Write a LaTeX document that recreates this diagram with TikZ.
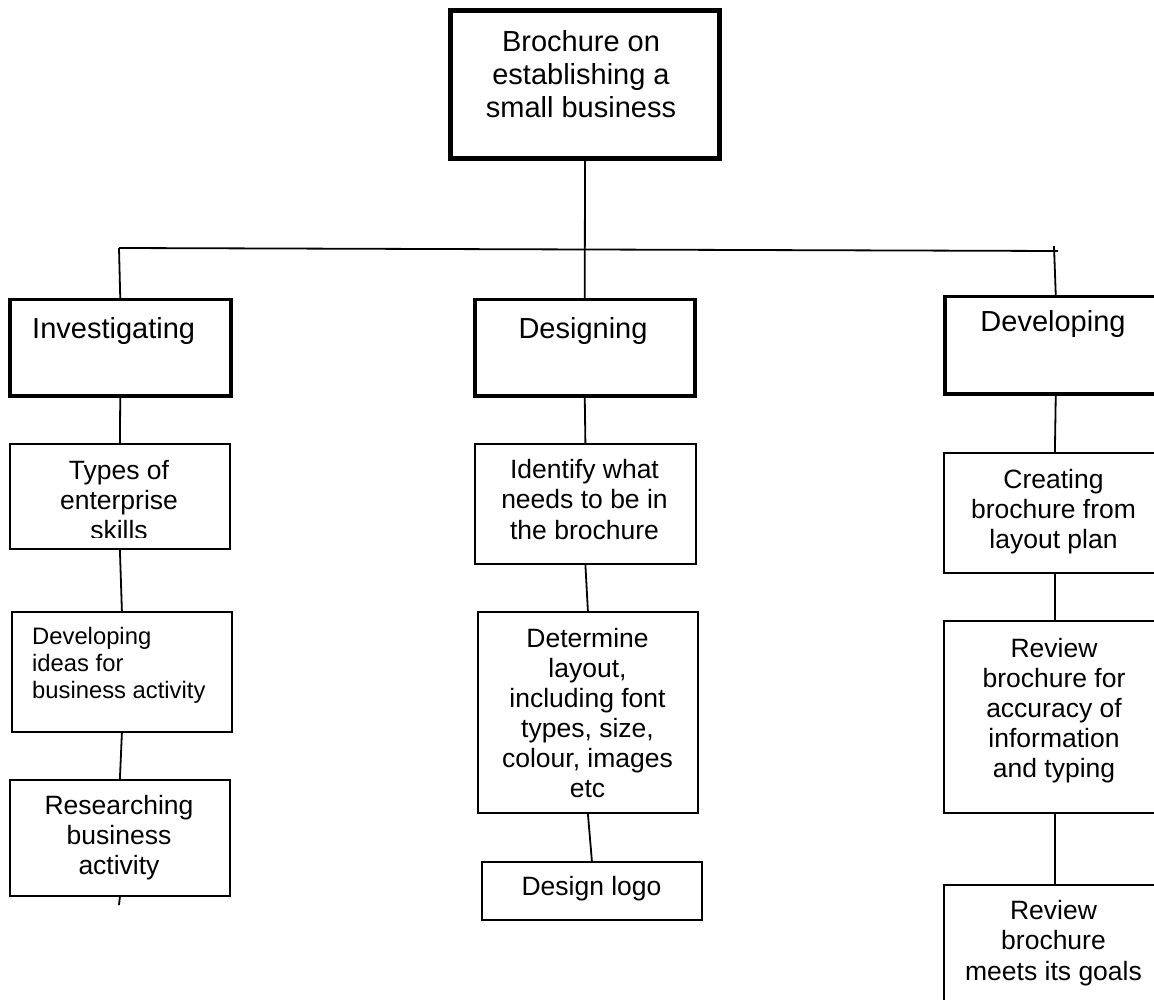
\documentclass[tikz,border=0pt]{standalone}
\usepackage{fontspec}
\setmainfont{Liberation Sans}
\begin{document}
\begin{tikzpicture}[x=1pt,y=-1pt,
  topbox/.style={draw, line width=5pt, inner sep=0pt, anchor=north west},
  headbox/.style={draw, line width=3.5pt, inner sep=0pt, anchor=north west},
  subbox/.style={draw, line width=1.8pt, inner sep=0pt, anchor=north west},
  conn/.style={line width=1.8pt},
  bigtxt/.style={font=\fontsize{29}{33}\selectfont, align=center, anchor=base, inner sep=0pt},
  bodytxt/.style={font=\fontsize{26.5}{30}\selectfont, align=center, anchor=base, inner sep=0pt},
  smalltxt/.style={font=\fontsize{23.8}{27}\selectfont, align=left, anchor=base west, inner sep=0pt}]
\useasboundingbox (0,0) rectangle (1154,1000);
\clip (0,0) rectangle (1154,1000);
\fill[white] (0,0) rectangle (1154,1000);

% boxes
\node[topbox, minimum width=269, minimum height=148] (top) at (448,8) {};
\node[headbox, minimum width=221, minimum height=96] (inv) at (8,298) {};
\node[headbox, minimum width=220, minimum height=96] (des) at (473,298) {};
\node[headbox, minimum width=222, minimum height=97] (dev) at (943,295) {};
\node[subbox, minimum width=220, minimum height=105] (types) at (9,443) {};
\node[subbox, minimum width=220, minimum height=120] (ideas) at (11,611) {};
\node[subbox, minimum width=220, minimum height=116] (research) at (9,779) {};
\node[subbox, minimum width=221, minimum height=120] (ident) at (474,443) {};
\node[subbox, minimum width=220, minimum height=201] (determ) at (477,611) {};
\node[subbox, minimum width=220, minimum height=58] (logo) at (481,861) {};
\node[subbox, minimum width=222, minimum height=120] (create) at (943,452) {};
\node[subbox, minimum width=222, minimum height=192] (review) at (943,620) {};
\node[subbox, minimum width=222, minimum height=130] (goals) at (943,884) {};

% texts (anchor = baseline of the last line)
\node[bigtxt] (toptxt) at (581,118) {Brochure on\\establishing a\\small business};
\node[bigtxt, anchor=base west] (invtxt) at (32,338) {Investigating};
\node[bigtxt] (destxt) at (583,338) {Designing};
\node[bigtxt] (devtxt) at (1053,332) {Developing};
\begin{scope}
  \clip (10,444) rectangle (228,537);
  \node[bodytxt] (typestxt) at (119,539) {Types of\\enterprise\\skills};
\end{scope}
\node[smalltxt] (ideastxt) at (32,698) {Developing\\ideas for\\business activity};
\node[bodytxt] (researchtxt) at (119,874) {Researching\\business\\activity};
\node[bodytxt, font=\fontsize{26.5}{30.5}\selectfont] (identtxt) at (584.5,539) {Identify what\\needs to be in\\the brochure};
\node[bodytxt] (determtxt) at (587.5,797) {Determine\\layout,\\including font\\types, size,\\colour, images\\etc};
\node[bodytxt] (logotxt) at (591.5,895) {Design logo};
\node[bodytxt] (createtxt) at (1053.5,548) {Creating\\brochure from\\layout plan};
\node[bodytxt] (reviewtxt) at (1054,777) {Review\\brochure for\\accuracy of\\information\\and typing};
\node[bodytxt, font=\fontsize{26.5}{30.5}\selectfont] (goalstxt) at (1053.5,980) {Review\\brochure\\meets its goals};

% connectors
\coordinate (hl) at (119,248);
\coordinate (hr) at (1058,251);
\coordinate (devtick) at (1054,246);
\coordinate (restick) at (119,905);
\draw[conn] (top.south) -- (des.north);
\draw[conn] (hl) -- (hr);
\draw[conn] (hl) -- (inv.north);
\draw[conn] (devtick) -- (dev.north);
\draw[conn] (inv.south) -- (types.north);
\draw[conn] (types.south) -- (ideas.north);
\draw[conn] (ideas.south) -- (research.north);
\draw[conn] (research.south) -- (restick);
\draw[conn] (des.south) -- (ident.north);
\draw[conn] (ident.south) -- (determ.north);
\draw[conn] (determ.south) -- (logo.north);
\draw[conn] (dev.south) -- (create.north);
\draw[conn] (create.south) -- (review.north);
\draw[conn] (review.south) -- (goals.north);
\end{tikzpicture}
\end{document}
